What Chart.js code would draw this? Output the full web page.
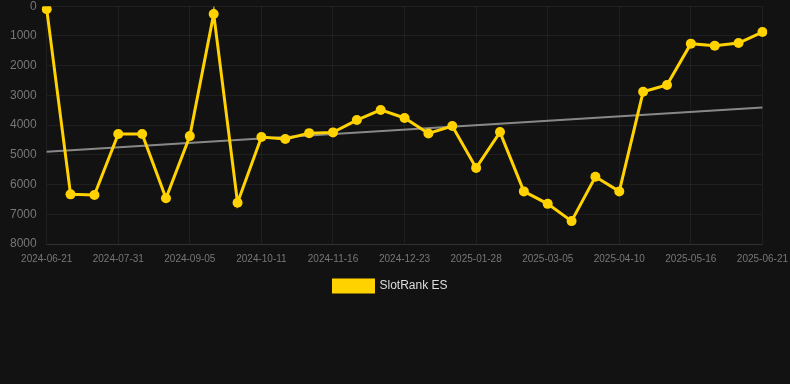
<!DOCTYPE html>
<html>
<head>
<meta charset="utf-8">
<script src="https://cdn.jsdelivr.net/npm/chart.js@4/dist/chart.umd.min.js"></script>
<style>
  html, body { margin: 0; padding: 0; background: #121212; overflow: hidden; }
  #wrap { width: 797px; height: 313px; margin-top: -11px; position: relative; }
</style>
</head>
<body>
<div id="wrap"><canvas id="chart"></canvas></div>
<script>
// one date per point, every third one is shown on the axis
const labels = [
  '2024-06-21', '2024-07-04', '2024-07-17', '2024-07-31', '2024-08-12',
  '2024-08-24', '2024-09-05', '2024-09-17', '2024-09-29', '2024-10-11',
  '2024-10-23', '2024-11-04', '2024-11-16', '2024-11-28', '2024-12-10',
  '2024-12-23', '2025-01-04', '2025-01-16', '2025-01-28', '2025-02-09',
  '2025-02-21', '2025-03-05', '2025-03-17', '2025-03-29', '2025-04-10',
  '2025-04-22', '2025-05-04', '2025-05-16', '2025-05-28', '2025-06-09',
  '2025-06-21'
];

const rankValues = [
  100, 6330, 6350, 4300, 4300, 6460, 4370, 260, 6610, 4400,
  4470, 4270, 4245, 3830, 3490, 3760, 4280, 4030, 5440, 4235,
  6230, 6650, 7230, 5740, 6230, 2880, 2650, 1260, 1330, 1240,
  870
];

// trend line endpoints
const trendStart = 4900;
const trendEnd = 3410;
const trendValues = labels.map((_, i) => i === 0 ? trendStart : (i === labels.length - 1 ? trendEnd : null));

const yTicks = [0, 1000, 2000, 3000, 4000, 5000, 6000, 7000, 8000];

Chart.defaults.font.family = 'Arial, "Liberation Sans", Helvetica, sans-serif';

// canvas is a bit wider than the window, pull the legend back to the middle
const legendShift = {
  id: 'legendShift',
  afterLayout(chart) {
    chart.legend.left -= 8;
    chart.legend.right -= 8;
  }
};

new Chart(document.getElementById('chart'), {
  type: 'line',
  data: {
    labels,
    datasets: [
      {
        label: 'SlotRank ES',
        data: rankValues,
        borderColor: '#FFD200',
        backgroundColor: '#FFD200',
        borderWidth: 3,
        pointRadius: 5,
        pointHoverRadius: 5,
        pointBackgroundColor: '#FFD200',
        pointBorderWidth: 0,
        tension: 0
      },
      {
        label: 'trend',
        data: trendValues,
        borderColor: 'rgba(150,150,150,0.9)',
        borderWidth: 2,
        pointRadius: 0,
        pointHoverRadius: 0,
        spanGaps: true,
        tension: 0
      }
    ]
  },
  options: {
    responsive: true,
    maintainAspectRatio: false,
    animation: false,
    layout: { padding: 0 },
    plugins: {
      legend: {
        position: 'bottom',
        labels: {
          color: '#dddddd',
          font: { size: 12 },
          boxWidth: 40,
          boxHeight: 12,
          padding: 6,
          filter: item => item.text === 'SlotRank ES'
        }
      },
      tooltip: { enabled: false }
    },
    scales: {
      x: {
        grid: { color: 'rgba(255,255,255,0.06)', drawTicks: false },
        border: { color: 'rgba(255,255,255,0.08)' },
        ticks: {
          color: '#777777',
          font: { size: 10 },
          maxRotation: 0,
          autoSkip: false,
          padding: 9,
          callback: function(v, i) { return i % 3 === 0 ? this.getLabelForValue(v) : null; }
        }
      },
      y: {
        reverse: true,
        min: 0,
        max: 8000,
        afterBuildTicks: axis => { axis.ticks = yTicks.map(v => ({ value: v })); },
        grid: { color: 'rgba(255,255,255,0.06)', drawTicks: false },
        border: { display: false },
        ticks: {
          color: '#777777',
          font: { size: 12 },
          padding: 10,
          callback: v => String(v)
        }
      }
    }
  },
  plugins: [legendShift]
});
</script>
</body>
</html>
